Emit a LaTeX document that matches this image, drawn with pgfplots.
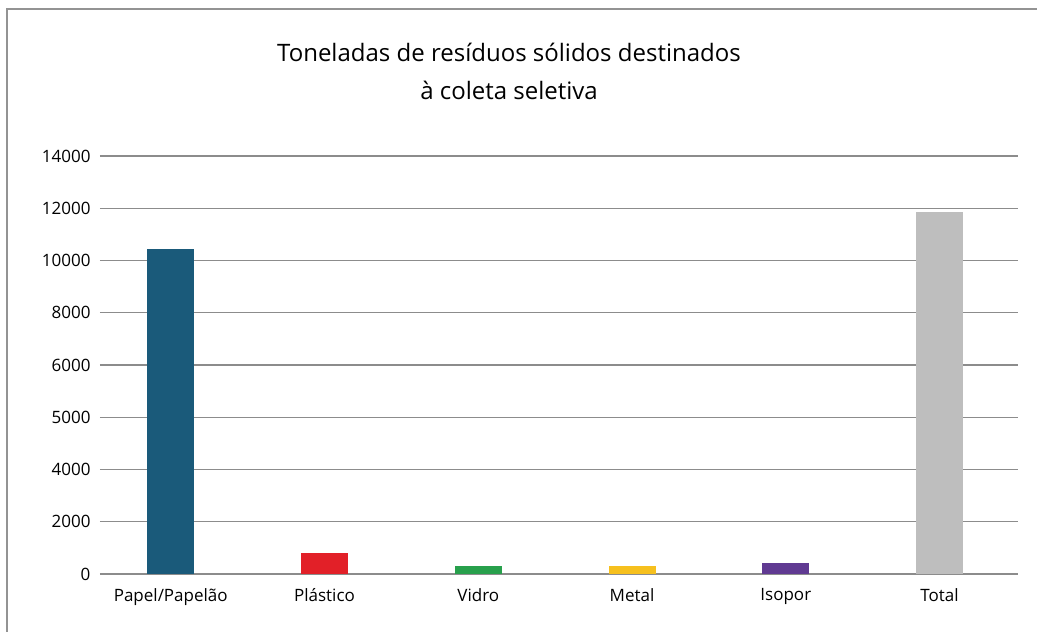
\documentclass[border=0pt]{standalone}
\usepackage{pgfplots}
\pgfplotsset{compat=1.18}
\usepackage{fontspec}
\setmainfont{Open Sans}
\definecolor{cpapel}{RGB}{26,90,122}
\definecolor{cplast}{RGB}{226,32,40}
\definecolor{cvidro}{RGB}{40,160,76}
\definecolor{cmetal}{RGB}{246,192,30}
\definecolor{cisopor}{RGB}{96,58,146}
\definecolor{ctotal}{RGB}{190,190,190}
\definecolor{cgrid}{RGB}{140,140,140}
\begin{document}
\begin{tikzpicture}[x=1pt,y=1pt]
\useasboundingbox (0,0) rectangle (1037,632);
\draw[color=gray!85, line width=1.6pt] (7,0) -- (7,623) -- (1037,623);
\node[anchor=base, inner sep=0pt, font=\fontsize{24}{28}\selectfont] at (509,570) {Toneladas de resíduos sólidos destinados};
\node[anchor=base, inner sep=0pt, font=\fontsize{24}{28}\selectfont] at (509,532) {à coleta seletiva};
\begin{axis}[
  at={(100pt,58pt)}, anchor=south west,
  scale only axis, width=918pt, height=418pt,
  ymin=0, ymax=16000, xmin=-0.46, xmax=5.51,
  ytick={0,2000,4000,6000,8000,10000,12000,14000,16000},
  yticklabels={0,2000,4000,5000,6000,8000,10000,12000,14000},
  scaled y ticks=false,
  xtick={0,1,2,3,4,5},
  xticklabels={Papel/Papelão,Plástico,Vidro,Metal,Isopor,Total},
  ymajorgrids,
  grid style={draw=cgrid, line width=1.4pt},
  axis line style={draw=none},
  major tick length=0pt,
  tick label style={font=\fontsize{17}{20}\selectfont},
  /pgf/number format/assume math mode=true,
  yticklabel style={anchor=east, xshift=-6pt},
  xticklabel style={anchor=north, yshift=-11pt},
  ybar, bar width=47pt, bar shift=0pt,
  every axis plot/.append style={draw=none},
]
\addplot[fill=cpapel] coordinates {(0,12440)};
\addplot[fill=cplast] coordinates {(1,800)};
\addplot[fill=cvidro] coordinates {(2,300)};
\addplot[fill=cmetal] coordinates {(3,300)};
\addplot[fill=cisopor] coordinates {(4,420)};
\addplot[fill=ctotal] coordinates {(5,13860)};
\end{axis}
\end{tikzpicture}
\end{document}
